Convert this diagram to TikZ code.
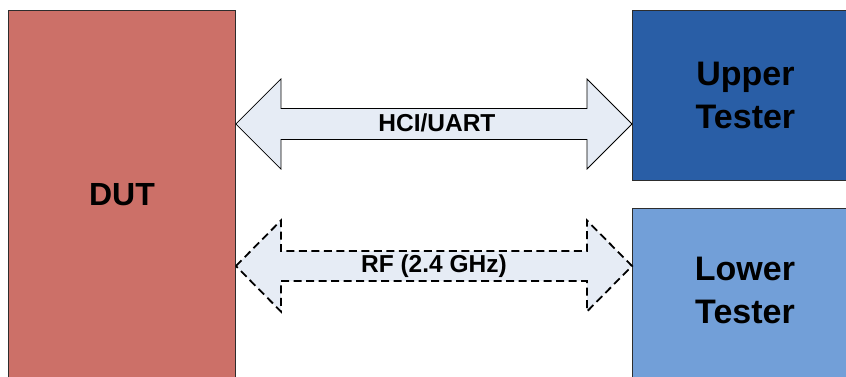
\documentclass[tikz,border=0pt]{standalone}
\usepackage{fontspec}
\setmainfont{Liberation Sans}
\usetikzlibrary{calc}
\definecolor{dutred}{RGB}{204,112,104}
\definecolor{upblue}{RGB}{41,94,166}
\definecolor{lowblue}{RGB}{114,159,216}
\definecolor{arrowfill}{RGB}{230,236,245}
\definecolor{edgegray}{RGB}{45,45,45}
\begin{document}
\begin{tikzpicture}[x=1pt,y=-1pt,
  box/.style={draw=edgegray,line width=0.9pt,inner sep=0pt,anchor=north west},
  bigtext/.style={font=\fontsize{34}{43}\selectfont\bfseries,align=center},
  duttext/.style={font=\fontsize{32}{38}\selectfont\bfseries},
  lbl/.style={font=\fontsize{24.5}{28}\selectfont\bfseries,inner sep=0pt},
  solidarrow/.style={draw=black,line width=0.8pt,fill=arrowfill,line join=miter},
  dasharrow/.style={draw=black,line width=1.8pt,fill=arrowfill,dash pattern=on 8pt off 4.5pt,line join=miter}]
\clip (0,0) rectangle (846,376);
\fill[white] (0,0) rectangle (846,376);
% boxes
\node[box,fill=dutred,minimum width=227pt,minimum height=368pt,duttext] (dut) at (8,10) {DUT};
\node[box,fill=upblue,minimum width=226pt,minimum height=170pt,bigtext] (upper) at (632,10) {Upper\\Tester};
\node[box,fill=lowblue,minimum width=226pt,minimum height=180pt] (lower) at (632,208) {};
\node[bigtext] (lowertext) at (745,290) {Lower\\Tester};
% HCI/UART arrow
\coordinate (hL) at (dut.east |- 0,124);
\coordinate (hR) at (upper.west |- 0,124);
\draw[solidarrow] (hL) -- ++(45,-45) -- ++(0,29.5) -- ($(hR)+(-45,-15.5)$) -- ++(0,-29.5) -- (hR)
  -- ++(-45,45) -- ++(0,-29.5) -- ($(hL)+(45,15.5)$) -- ++(0,29.5) -- cycle;
\node[lbl] (hci) at ($(hL)!0.5!(hR)+(3,-1)$) {HCI/UART};
% RF arrow
\coordinate (rL) at (dut.east |- 0,266);
\coordinate (rR) at (lower.west |- 0,266);
\draw[dasharrow] (rL) -- ++(45,-45.5) -- ++(0,30.5) -- ($(rR)+(-45,-15)$) -- ++(0,-30.5) -- (rR)
  -- ++(-45,45.5) -- ++(0,-30.5) -- ($(rL)+(45,15)$) -- ++(0,30.5) -- cycle;
\node[lbl] (rf) at ($(rL)!0.5!(rR)$) {RF (2.4 GHz)};
\end{tikzpicture}
\end{document}
